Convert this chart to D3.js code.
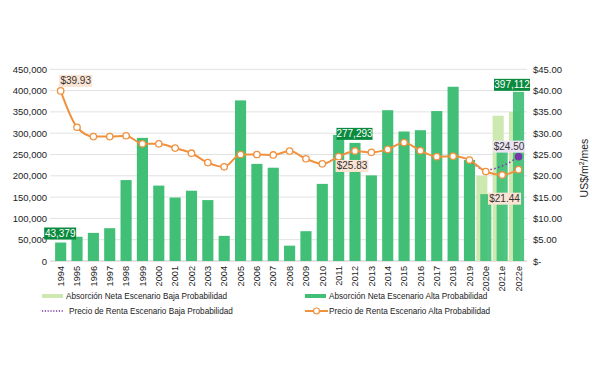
<!DOCTYPE html>
<html><head><meta charset="utf-8">
<script src="https://cdn.jsdelivr.net/npm/d3@7"></script>
<style>
body{margin:0;background:#fff;}
svg{font-family:"Liberation Sans",Arial,sans-serif;}
</style></head>
<body><svg id="c" width="592" height="370"></svg>
<script>
const categories = ["1994","1995","1996","1997","1998","1999","2000","2001","2002","2003","2004","2005","2006","2007","2008","2009","2010","2011","2012","2013","2014","2015","2016","2017","2018","2019","2020e","2021e","2022e"];
const absorcionAlta = [43379,57000,66000,77000,190000,289000,177000,149000,165000,143000,59000,377000,228000,219000,36000,70000,181000,296000,277293,201000,354000,304000,307000,352000,409000,237000,157000,268000,397112];
const absorcionBaja = [null,null,null,null,null,null,null,null,null,null,null,null,null,null,null,null,null,null,null,null,null,null,null,null,null,null,200000,341000,350000];
const precioAlta = [39.93,31.4,29.2,29.2,29.4,27.5,27.5,26.5,25.3,23.1,22.1,25.0,25.0,24.9,25.8,24.0,22.8,24.5,25.83,25.5,26.2,27.8,25.9,24.5,24.6,23.7,21.0,20.2,21.44];
const precioBaja = [null,null,null,null,null,null,null,null,null,null,null,null,null,null,null,null,null,null,null,null,null,null,null,null,null,23.7,21.4,22.3,24.50];
const leftTicks = [0,50000,100000,150000,200000,250000,300000,350000,400000,450000];
const rightTicks = [0,5,10,15,20,25,30,35,40,45];
const legendLabels = ["Absorción Neta Escenario Baja Probabilidad","Absorción Neta Escenario  Alta Probabilidad","Precio de Renta Escenario Baja Probabilidad","Precio de Renta Escenario Alta Probabilidad"];

const svg = d3.select("#c");
const x = d3.scaleBand().domain(categories).range([52.5,526.7]).paddingInner(0.32).paddingOuter(0.16);
const yL = d3.scaleLinear().domain([0,450000]).range([261,69.3]);
const yR = d3.scaleLinear().domain([0,45]).range([261,69.3]);
const cx = d => x(d)+x.bandwidth()/2;

const cDark="#41bf76", cLight="#cde9b0", cOrange="#f0913e", cPurple="#7a35a8";

// gridlines
svg.append("g").selectAll("line").data(leftTicks).join("line")
 .attr("x1",50).attr("x2",527).attr("y1",d=>yL(d)).attr("y2",d=>yL(d))
 .attr("stroke",d=>d===0?"#c8c8c8":"#e2e2e2").attr("stroke-width",1);

// left axis
const gl = svg.append("g").attr("transform","translate(50,0)")
 .call(d3.axisLeft(yL).tickValues(leftTicks).tickFormat(d3.format(",")).tickSize(0).tickPadding(3));
gl.select(".domain").remove();
gl.selectAll("text").attr("font-size",9.5).attr("fill","#222");

// right axis
const gr = svg.append("g").attr("transform","translate(529,0)")
 .call(d3.axisRight(yR).tickValues(rightTicks).tickFormat(d=>d===0?"$-":"$"+d3.format(".2f")(d)).tickSize(0).tickPadding(4));
gr.select(".domain").remove();
gr.selectAll("text").attr("font-size",9.5).attr("fill","#222");

// x axis
const gx = svg.append("g").attr("transform","translate(0,261)")
 .call(d3.axisBottom(x).tickSize(0).tickPadding(0));
gx.select(".domain").remove();
gx.selectAll("text").attr("font-size",9.2).attr("fill","#222")
 .attr("transform","rotate(-90)").attr("text-anchor","end").attr("dy","0.35em").attr("x",-5).attr("y",0);

// bars: light (baja) behind, shifted left
const bw = x.bandwidth();
svg.append("g").selectAll("rect").data(categories.map((c,i)=>({c,v:absorcionBaja[i]})).filter(d=>d.v!=null)).join("rect")
 .attr("x",d=>x(d.c)-4).attr("width",bw).attr("y",d=>yL(d.v)).attr("height",d=>yL(0)-yL(d.v)).attr("fill",cLight);
svg.append("g").selectAll("rect").data(categories.map((c,i)=>({c,v:absorcionAlta[i]}))).join("rect")
 .attr("x",d=>x(d.c)).attr("width",bw).attr("y",d=>yL(d.v)).attr("height",d=>yL(0)-yL(d.v)).attr("fill",cDark)
 .attr("fill-opacity",(d,i)=>i>=26?0.92:1);

// lines
const line = d3.line().defined(d=>d.v!=null).x(d=>cx(d.c)).y(d=>yR(d.v)).curve(d3.curveMonotoneX);
const baja = categories.map((c,i)=>({c,v:precioBaja[i]}));
const alta = categories.map((c,i)=>({c,v:precioAlta[i]}));
svg.append("path").datum(baja).attr("d",line).attr("fill","none").attr("stroke",cPurple).attr("stroke-width",1.5).attr("stroke-dasharray","1.5,2.5");
svg.append("path").datum(alta).attr("d",line).attr("fill","none").attr("stroke",cOrange).attr("stroke-width",2);
svg.append("g").selectAll("circle").data(alta).join("circle")
 .attr("cx",d=>cx(d.c)).attr("cy",d=>yR(d.v)).attr("r",3.2).attr("fill","#fff").attr("stroke",cOrange).attr("stroke-width",1.3);
const lastB = baja[baja.length-1];
svg.append("circle").attr("cx",cx(lastB.c)).attr("cy",yR(lastB.v)).attr("r",3.8).attr("fill",cPurple);

// data labels
function label(text, xc, yc, fill, color, w){
  const g = svg.append("g");
  g.append("rect").attr("x",xc-w/2).attr("y",yc-6).attr("width",w).attr("height",12).attr("fill",fill);
  g.append("text").attr("x",xc).attr("y",yc).attr("dy","0.35em").attr("text-anchor","middle")
   .attr("font-size",10).attr("fill",color).text(text);
}
const i0=0, i12=18, iL=28;
label("$"+precioAlta[i0].toFixed(2), cx(categories[i0])+15, yR(precioAlta[i0])-10, "#fbe4d4", "#333", 33);
label(d3.format(",")(absorcionAlta[i0]), cx(categories[i0])-0.5, yL(absorcionAlta[i0])-9, "#0a8a3e", "#fff", 32);
label(d3.format(",")(absorcionAlta[i12]), cx(categories[i12])-0.5, yL(absorcionAlta[i12])-9, "#0a8a3e", "#fff", 36);
label("$"+precioAlta[i12].toFixed(2), cx(categories[i12])-3, yR(precioAlta[i12])+15, "#fbe4d4", "#333", 33);
label(d3.format(",")(absorcionAlta[iL]), cx(categories[iL])-6.5, yL(absorcionAlta[iL])-7, "#0a8a3e", "#fff", 36);
label("$"+precioBaja[iL].toFixed(2), cx(categories[iL])-9.5, yR(precioBaja[iL])-10, "#ebe3f2", "#333", 32);
label("$"+precioAlta[iL].toFixed(2), cx(categories[iL])-14, yR(precioAlta[iL])+29, "#fbe4d4", "#333", 33);

// right axis title
const t = svg.append("text").attr("transform","translate(588,168) rotate(-90)").attr("text-anchor","middle")
 .attr("font-size",10.5).attr("fill","#222");
t.append("tspan").text("US$/m");
t.append("tspan").attr("font-size",7).attr("dy",-4).text("2");
t.append("tspan").attr("dy",4).text("/mes");

// legend
const lg = svg.append("g").attr("font-size",8.2).attr("fill","#222");
const items = [
 {x:42,y:296,type:"light"},{x:305,y:296,type:"dark"},
 {x:42,y:311,type:"purple"},{x:305,y:311,type:"orange"}];
items.forEach((it,i)=>{
  if(it.type==="light"||it.type==="dark"){
    lg.append("rect").attr("x",it.x).attr("y",it.y-2).attr("width",21).attr("height",4).attr("fill",it.type==="light"?cLight:cDark);
  } else if(it.type==="purple"){
    lg.append("line").attr("x1",it.x).attr("x2",it.x+21).attr("y1",it.y).attr("y2",it.y).attr("stroke",cPurple).attr("stroke-width",1.3).attr("stroke-dasharray","1.2,1.6");
  } else {
    lg.append("line").attr("x1",it.x).attr("x2",it.x+23).attr("y1",it.y).attr("y2",it.y).attr("stroke",cOrange).attr("stroke-width",2);
    lg.append("circle").attr("cx",it.x+11.5).attr("cy",it.y).attr("r",3).attr("fill","#fff").attr("stroke",cOrange).attr("stroke-width",1.2);
  }
  lg.append("text").attr("x",it.x+(i===2?27:24)).attr("y",it.y).attr("dy","0.35em").text(legendLabels[i]);
});
</script></body></html>
